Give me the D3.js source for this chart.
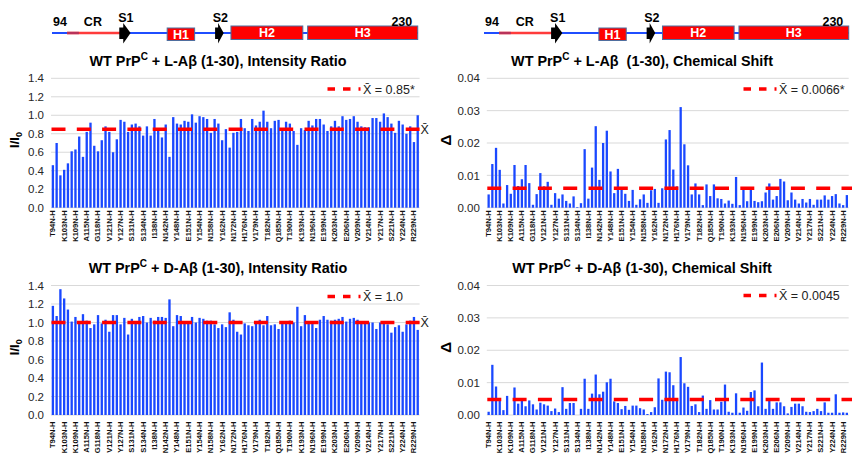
<!DOCTYPE html>
<html>
<head>
<meta charset="utf-8">
<script src="https://cdn.jsdelivr.net/npm/d3@7"></script>
<style>
  body { margin: 0; background: #fff; }
  text { font-family: "Liberation Sans", Arial, sans-serif; }
</style>
</head>
<body>
<svg id="chart" width="852" height="454"></svg>
<script>
// residues (98 amide peaks), every third one is labelled on the axis
const residues = ['T94','W98','K100','K103','K105','T106','K109','V111','A112','A115','A116','A117',
  'G118','A119','V120','V121','G123','L124','Y127','M128','L129','S131','A132','M133',
  'S134','R135','M137','I138','H139','F140','N142','D143','W144','Y148','Y149','R150',
  'E151','N152','M153','Y154','R155','Y156','N158','Q159','V160','Y162','R163','Y168',
  'N172','N173','F174','H176','D177','C178','V179','N180','I181','T182','I183','K184',
  'Q185','H186','V188','T190','T191','T192','K193','G194','E195','N196','F197','T198',
  'E199','D201','V202','K203','M204','M205','E206','R207','V208','V209','E210','M212',
  'V214','T215','Q216','Y217','Q218','E220','S221','Q222','A223','Y224','D226','R228',
  'R229','S230'].map(r => r + 'N-H');

// L-Abeta, intensity ratio I/I0
const lIntensity = [0.46,0.70,0.35,0.41,0.48,0.61,0.63,0.77,0.55,0.82,0.92,0.67,0.61,0.73,0.88,
  0.82,0.60,0.74,0.95,0.93,0.82,0.90,0.91,0.88,0.78,0.88,0.78,0.96,0.86,0.76,0.90,0.55,0.98,
  0.91,0.90,0.94,0.93,1.01,0.92,0.99,0.98,0.96,0.81,0.96,0.91,0.73,0.85,0.65,0.81,0.82,0.96,
  0.86,0.83,0.96,0.89,0.93,1.05,0.93,0.86,0.94,0.95,0.86,0.93,0.91,0.83,0.68,0.86,0.84,0.94,
  0.89,0.96,0.96,0.90,0.83,0.88,0.94,0.88,0.99,0.95,0.96,0.99,0.93,0.88,0.87,0.87,0.97,0.97,
  0.93,1.02,0.98,0.91,0.81,0.94,0.90,0.80,0.88,0.71,1.00];

// L-Abeta, chemical shift
const lShift = [0.0041,0.0135,0.0185,0.0117,0.0013,0.0070,0.0043,0.0132,0.0067,0.0088,0.0132,
  0.0076,0.0009,0.0042,0.0107,0.0066,0.0080,0.0009,0.0045,0.0028,0.0041,0.0021,0.0013,0.0035,
  0.0002,0.0014,0.0181,0.0028,0.0124,0.0252,0.0086,0.0200,0.0238,0.0112,0.0045,0.0120,0.0060,
  0.0043,0.0021,0.0055,0.0009,0.0026,0.0041,0.0015,0.0054,0.0058,0.0015,0.0060,0.0211,0.0240,
  0.0118,0.0066,0.0311,0.0196,0.0131,0.0041,0.0075,0.0041,0.0008,0.0072,0.0036,0.0072,0.0029,
  0.0027,0.0013,0.0022,0.0012,0.0095,0.0008,0.0056,0.0020,0.0056,0.0021,0.0017,0.0020,0.0047,
  0.0075,0.0025,0.0036,0.0089,0.0081,0.0023,0.0047,0.0025,0.0013,0.0027,0.0016,0.0027,0.0009,
  0.0025,0.0025,0.0038,0.0025,0.0036,0.0042,0.0013,0.0008,0.0039];

// D-Abeta, intensity ratio
const dIntensity = [1.18,1.07,1.36,1.26,1.14,1.01,1.06,1.00,1.09,1.02,0.94,0.98,1.08,0.99,1.03,
  0.90,1.08,1.08,0.98,1.05,0.87,1.04,1.01,1.06,1.07,1.00,1.05,1.02,1.06,1.06,1.05,1.25,0.96,
  1.08,1.07,1.00,1.00,1.06,1.00,1.05,1.04,1.02,1.02,0.98,0.94,0.98,0.95,1.11,1.03,0.90,0.87,
  0.99,0.97,0.96,1.00,1.03,0.97,1.07,0.97,0.98,0.93,1.00,1.01,1.02,1.00,1.17,0.96,1.08,1.00,
  1.00,0.94,1.03,1.07,1.03,1.02,1.03,1.04,1.06,1.01,1.04,1.05,1.03,1.01,0.99,1.00,1.00,0.93,
  1.00,1.00,0.98,0.89,0.95,0.97,0.90,0.98,1.02,1.06,0.92];

// D-Abeta, chemical shift
const dShift = [0.0010,0.0155,0.0088,0.0048,0.0015,0.0059,0,0.0085,0.0035,0.0048,0.0027,0.0045,
  0.0033,0.0017,0.0038,0.0033,0.0029,0.0012,0.0020,0.0009,0.0086,0.0019,0.0037,0.0037,0,0.0019,
  0.0112,0.0019,0.0066,0.0125,0.0064,0.0072,0.0101,0.0112,0.0042,0.0037,0.0018,0.0028,0.0016,
  0.0029,0.0029,0.0021,0.0017,0.0003,0.0009,0.0024,0.0113,0.0047,0.0134,0.0132,0.0092,0.0051,
  0.0179,0.0098,0.0087,0.0028,0.0033,0.0009,0.0060,0.0019,0.0046,0.0017,0.0017,0.0041,0.0094,
  0.0010,0.0007,0.0067,0.0007,0.0023,0.0013,0.0071,0.0076,0.0027,0.0162,0.0019,0.0044,0.0019,
  0.0039,0.0039,0.0027,0.0005,0.0025,0.0035,0.0035,0.0027,0.0010,0.0009,0.0012,0.0019,0.0012,
  0.0039,0.0007,0.0007,0.0064,0.0007,0.0008,0.0007];

const ratioTicks = [0, 0.2, 0.4, 0.6, 0.8, 1.0, 1.2, 1.4];
const shiftTicks = [0, 0.01, 0.02, 0.03, 0.04];

// mean lines: level drawn and legend text
const meanLevels = [0.85, 0.006, 1.0, 0.0048];
const meanLabels = ['X\u0304 = 0.85*', 'X\u0304 = 0.0066*', 'X\u0304 = 1.0', 'X\u0304 = 0.0045'];

// PrP domain sketch (residue numbers)
const crRange = [99.6, 119.3];
const crOverlap = [99.6, 104];
const strands = [{name: 'S1', from: 119, to: 123.2}, {name: 'S2', from: 154.6, to: 157.8}];
const helices = [{name: 'H1', from: 136.8, to: 147}, {name: 'H2', from: 160.5, to: 187.2},
  {name: 'H3', from: 189, to: 229.9}];

const svg = d3.select('#chart');
const BLUE = '#1a48ff';
const RED = '#ff0000';

//----- domain diagram above each column
function drawDiagram(x0, x1) {
  const r = d3.scaleLinear().domain([94, 230]).range([x0, x1]);
  const g = svg.append('g');
  g.append('line').attr('x1', r(94)).attr('x2', r(230)).attr('y1', 33).attr('y2', 33)
    .attr('stroke', '#1f4dff').attr('stroke-width', 2);
  g.append('line').attr('x1', r(crRange[0])).attr('x2', r(crRange[1])).attr('y1', 33).attr('y2', 33)
    .attr('stroke', '#ff3b3b').attr('stroke-width', 2.4);
  g.append('line').attr('x1', r(crOverlap[0])).attr('x2', r(crOverlap[1])).attr('y1', 33).attr('y2', 33)
    .attr('stroke', '#b8325a').attr('stroke-width', 2.4);

  helices.forEach(h => {
    const tall = h.name === 'H1' ? [28, 40.5] : [26, 39.5];
    g.append('rect').attr('x', r(h.from)).attr('y', tall[0])
      .attr('width', r(h.to) - r(h.from)).attr('height', tall[1] - tall[0])
      .attr('fill', RED).attr('stroke', '#4f6e9e').attr('stroke-width', 1);
    g.append('text').attr('x', (r(h.from) + r(h.to)) / 2).attr('y', (tall[0] + tall[1]) / 2 + 4.5)
      .attr('text-anchor', 'middle').attr('fill', '#fff').attr('font-weight', 'bold')
      .attr('font-size', 12.5).text(h.name);
  });

  strands.forEach(s => {
    const a = r(s.from), b = r(s.to), m = a + (b - a) * 0.35;
    g.append('path')
      .attr('d', `M${a},27.5 L${m},27.5 L${m},23 L${b},33 L${m},43.5 L${m},39 L${a},39 Z`)
      .attr('fill', '#000');
    g.append('text').attr('x', (a + b) / 2 + 1).attr('y', 21.5).attr('text-anchor', 'middle')
      .attr('font-weight', 'bold').attr('font-size', 12.5).text(s.name);
  });

  [['94', 97], ['CR', 109.2], ['230', 224]].forEach(t => {
    g.append('text').attr('x', r(t[1])).attr('y', 25.5).attr('text-anchor', 'middle')
      .attr('font-weight', 'bold').attr('font-size', 12.5).text(t[0]);
  });
}
drawDiagram(52, 418);
drawDiagram(484, 849);

//----- bar panels
const panels = [
  {values: lIntensity, x0: 51, x1: 419.6, top: 78.3, bottom: 207.7, ticks: ratioTicks, fmt: d3.format('.1f'),
   title: ['WT PrP', 'C', ' + L-A\u03b2 (1-30), Intensity Ratio'], tx: 218, ty: 65.5,
   mean: meanLevels[0], legend: meanLabels[0], lx: 363, ly: 93.5, yTitle: 'ratio', labelGap: 2.5, sideMark: true},
  {values: lShift, x0: 486.8, x1: 848.7, top: 78.3, bottom: 207.7, ticks: shiftTicks, fmt: d3.format('.2f'),
   title: ['WT PrP', 'C', ' + L-A\u03b2  (1-30), Chemical Shift'], tx: 642, ty: 65.5,
   mean: meanLevels[1], legend: meanLabels[1], lx: 779, ly: 93.5, yTitle: 'delta', labelGap: 2.5, sideMark: false},
  {values: dIntensity, x0: 51, x1: 419.6, top: 285.5, bottom: 415, ticks: ratioTicks, fmt: d3.format('.1f'),
   title: ['WT PrP', 'C', ' + D-A\u03b2 (1-30), Intensity Ratio'], tx: 218, ty: 272.5,
   mean: meanLevels[2], legend: meanLabels[2], lx: 363, ly: 301, yTitle: 'ratio', labelGap: 6.5, sideMark: true},
  {values: dShift, x0: 486.8, x1: 848.7, top: 285.5, bottom: 415, ticks: shiftTicks, fmt: d3.format('.2f'),
   title: ['WT PrP', 'C', ' + D-A\u03b2 (1-30), Chemical Shift'], tx: 642, ty: 272.5,
   mean: meanLevels[3], legend: meanLabels[3], lx: 779, ly: 300, yTitle: 'delta', labelGap: 6.5, sideMark: false}
];

panels.forEach(p => {
  const x = d3.scaleBand().domain(residues).range([p.x0, p.x1]).paddingInner(0.38).paddingOuter(0.19);
  const y = d3.scaleLinear().domain([0, p.ticks[p.ticks.length - 1]]).range([p.bottom, p.top]);
  const g = svg.append('g');

  // title
  const t = g.append('text').attr('x', p.tx).attr('y', p.ty).attr('text-anchor', 'middle')
    .attr('font-weight', 'bold').attr('font-size', 14.4).style('white-space', 'pre');
  t.append('tspan').text(p.title[0]);
  t.append('tspan').attr('font-size', 10).attr('dy', -5.5).text(p.title[1]);
  t.append('tspan').attr('dy', 5.5).text(p.title[2]);

  // gridlines
  g.selectAll('.grid').data(p.ticks).enter().append('line')
    .attr('x1', p.x0).attr('x2', p.x1).attr('y1', d => y(d)).attr('y2', d => y(d))
    .attr('stroke', '#d9d9d9').attr('stroke-width', 1);

  // y axis labels
  const ya = g.append('g').attr('transform', `translate(${p.x0 - 3},0)`)
    .call(d3.axisLeft(y).tickValues(p.ticks).tickFormat(p.fmt).tickSize(0).tickPadding(4));
  ya.select('.domain').remove();
  ya.selectAll('text').attr('font-size', 11.5).attr('fill', '#262626')
    .style('font-family', '"Liberation Sans", Arial, sans-serif');

  // bars
  g.selectAll('.bar').data(p.values).enter().append('rect')
    .attr('x', (d, i) => x(residues[i]))
    .attr('y', d => y(d))
    .attr('width', x.bandwidth())
    .attr('height', d => y(0) - y(d))
    .attr('fill', BLUE);

  // x axis labels (every third residue)
  const xa = g.append('g').attr('transform', `translate(0,${p.bottom + p.labelGap})`)
    .call(d3.axisBottom(x).tickValues(residues.filter((d, i) => i % 3 === 0)).tickSize(0));
  xa.select('.domain').remove();
  xa.selectAll('text')
    .attr('transform', 'rotate(-90)')
    .attr('x', 0).attr('y', 0).attr('dy', '0.32em')
    .attr('text-anchor', 'end')
    .attr('font-size', 7.6).attr('font-weight', 'bold').attr('fill', '#111')
    .style('font-family', '"Liberation Sans Narrow", "Liberation Sans", Arial, sans-serif');

  // mean line
  const xEnd = p.sideMark ? p.x1 : 860;
  g.append('line').attr('x1', p.x0 + 0.5).attr('x2', xEnd)
    .attr('y1', y(p.mean)).attr('y2', y(p.mean))
    .attr('stroke', RED).attr('stroke-width', 3.5).attr('stroke-dasharray', '14,11.3');
  if (p.sideMark) {
    g.append('text').attr('x', p.x1 + 1).attr('y', y(p.mean) + 4.5)
      .attr('font-size', 12.5).attr('fill', '#222').text('X\u0304');
  }

  // legend
  g.append('line').attr('x1', p.lx - 35.5).attr('x2', p.lx - 2.5)
    .attr('y1', p.ly - 4.5).attr('y2', p.ly - 4.5)
    .attr('stroke', RED).attr('stroke-width', 3.5).attr('stroke-dasharray', '7.5,8');
  g.append('text').attr('x', p.lx).attr('y', p.ly).attr('font-size', 12.5).attr('fill', '#222')
    .text(p.legend);

  // y title
  const yt = g.append('text')
    .attr('transform', `translate(${p.yTitle === 'ratio' ? 19 : 451},${(p.top + p.bottom) / 2 - 3}) rotate(-90)`)
    .attr('text-anchor', 'middle').attr('font-weight', 'bold');
  if (p.yTitle === 'ratio') {
    yt.attr('font-size', 13);
    yt.append('tspan').text('I/I');
    yt.append('tspan').attr('font-size', 9).attr('dy', 3).text('0');
  } else {
    yt.attr('font-size', 15).text('\u0394');
  }
});
</script>
</body>
</html>
